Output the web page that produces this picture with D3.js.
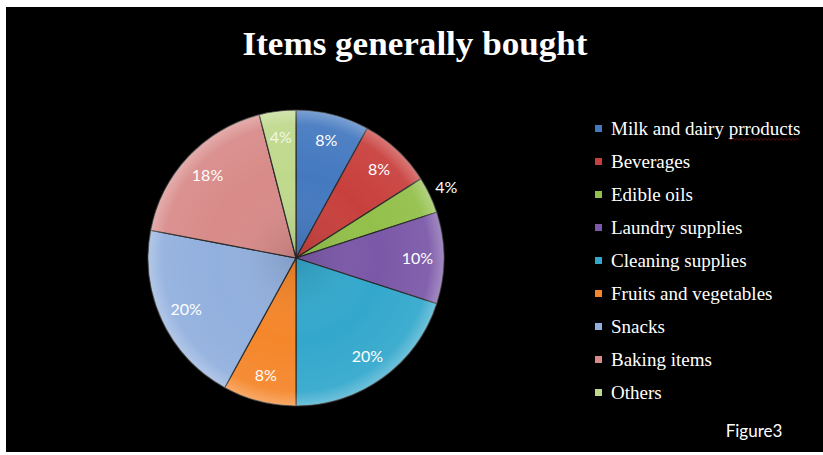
<!DOCTYPE html>
<html>
<head>
<meta charset="utf-8">
<script src="https://cdn.jsdelivr.net/npm/d3@7/dist/d3.min.js"></script>
<style>
  html, body { margin: 0; padding: 0; background: #ffffff; }
  svg { display: block; }
</style>
</head>
<body>
<svg id="chart" width="823" height="455"></svg>
<script>
// Share of items generally bought (percent)
const categories = [
  "Milk and dairy prroducts",
  "Beverages",
  "Edible oils",
  "Laundry supplies",
  "Cleaning supplies",
  "Fruits and vegetables",
  "Snacks",
  "Baking items",
  "Others"
];
const shares = [8, 8, 4, 10, 20, 8, 20, 18, 4];
const sliceColors = [
  "#4479c0", "#c8403d", "#93c04a", "#7b58a8", "#33a8cc",
  "#f5862a", "#92b0de", "#d88b89", "#bfd98c"
];
const titleText = "Items generally bought";
const captionText = "Figure3";

const svg = d3.select("#chart");
const W = 823, H = 455;

// black plot panel inside a thin white margin
svg.append("rect").attr("x", 6).attr("y", 7).attr("width", W - 6).attr("height", 445)
  .attr("fill", "#000");

svg.append("text")
  .attr("x", 415).attr("y", 55)
  .attr("text-anchor", "middle")
  .attr("font-family", "Liberation Serif, Times New Roman, serif")
  .attr("font-weight", "bold")
  .attr("font-size", 34)
  .attr("textLength", 345)
  .attr("lengthAdjust", "spacingAndGlyphs")
  .attr("fill", "#ffffff")
  .text(titleText);

const cx = 296, cy = 258, R = 148;
const data = categories.map((c, i) => ({ name: c, value: shares[i], color: sliceColors[i] }));
const pie = d3.pie().value(d => d.value).sort(null);
const arcs = pie(data);
const arc = d3.arc().innerRadius(0).outerRadius(R);

const defs = svg.append("defs");
const rim = defs.append("radialGradient").attr("id", "rim")
  .attr("gradientUnits", "userSpaceOnUse")
  .attr("cx", cx).attr("cy", cy).attr("r", R);
rim.append("stop").attr("offset", "0").attr("stop-color", "#000").attr("stop-opacity", 0.12);
rim.append("stop").attr("offset", "0.55").attr("stop-color", "#fff").attr("stop-opacity", 0);
rim.append("stop").attr("offset", "0.9").attr("stop-color", "#fff").attr("stop-opacity", 0.06);
rim.append("stop").attr("offset", "1").attr("stop-color", "#fff").attr("stop-opacity", 0.3);

const g = svg.append("g").attr("transform", `translate(${cx},${cy})`);
g.selectAll("path.slice").data(arcs).join("path")
  .attr("class", "slice")
  .attr("d", arc)
  .attr("fill", d => d.data.color)
  .attr("stroke", "#2a2a2a")
  .attr("stroke-width", 1.2);
// rim highlight over the whole pie
g.append("circle").attr("r", R).attr("fill", "url(#rim)")
  .attr("transform", `translate(${-cx},${-cy})`)
  .attr("cx", cx).attr("cy", cy);

// data labels: inside at ~82% radius, the thin edible-oils slice gets its label outside
const inner = d3.arc().innerRadius(R * 0.82).outerRadius(R * 0.82);
const outer = d3.arc().innerRadius(R + 18).outerRadius(R + 18);
g.selectAll("text.lbl").data(arcs).join("text")
  .attr("class", "lbl")
  .attr("transform", d => {
    const p = (d.data.name === "Edible oils" ? outer : inner).centroid(d);
    return `translate(${p[0]},${p[1]})`;
  })
  .attr("text-anchor", "middle")
  .attr("dy", "0.35em")
  .attr("font-family", "Lato, Open Sans, sans-serif")
  .attr("font-size", 16)
  .attr("fill", d => d.data.name === "Others" ? "#f2f5e6" : "#ffffff")
  .text(d => d.data.value + "%");

// legend
const lg = svg.append("g").attr("transform", "translate(595,0)");
const rowY = d3.scalePoint().domain(categories).range([135, 399]);
const rows = lg.selectAll("g.row").data(data).join("g").attr("class", "row")
  .attr("transform", d => `translate(0,${rowY(d.name)})`);
rows.append("rect").attr("x", 0).attr("y", -10).attr("width", 7).attr("height", 7)
  .attr("fill", d => d.color);
rows.append("text").attr("x", 16).attr("y", 0)
  .attr("font-family", "Liberation Serif, Times New Roman, serif")
  .attr("font-size", 19)
  .attr("fill", "#ffffff")
  .text(d => d.name);

// spell-check underline under the misspelt word
const firstRow = rows.filter((d, i) => i === 0).select("text").node();
const full = firstRow.getComputedTextLength();
const prefix = firstRow.getSubStringLength(0, "Milk and dairy ".length);
const ux0 = 16 + prefix, ux1 = 16 + full;
const wave = d3.range(ux0, ux1, 2).map((x, i) => [x, rowY(categories[0]) + 4 + (i % 2 ? 1 : -0.5)]);
lg.append("path").attr("d", d3.line()(wave)).attr("fill", "none")
  .attr("stroke", "#a01818").attr("stroke-width", 0.8).attr("opacity", 0.8);

svg.append("text")
  .attr("x", 754).attr("y", 437)
  .attr("text-anchor", "middle")
  .attr("font-family", "Lato, Open Sans, sans-serif")
  .attr("font-size", 17)
  .attr("fill", "#ffffff")
  .text(captionText);
</script>
</body>
</html>
